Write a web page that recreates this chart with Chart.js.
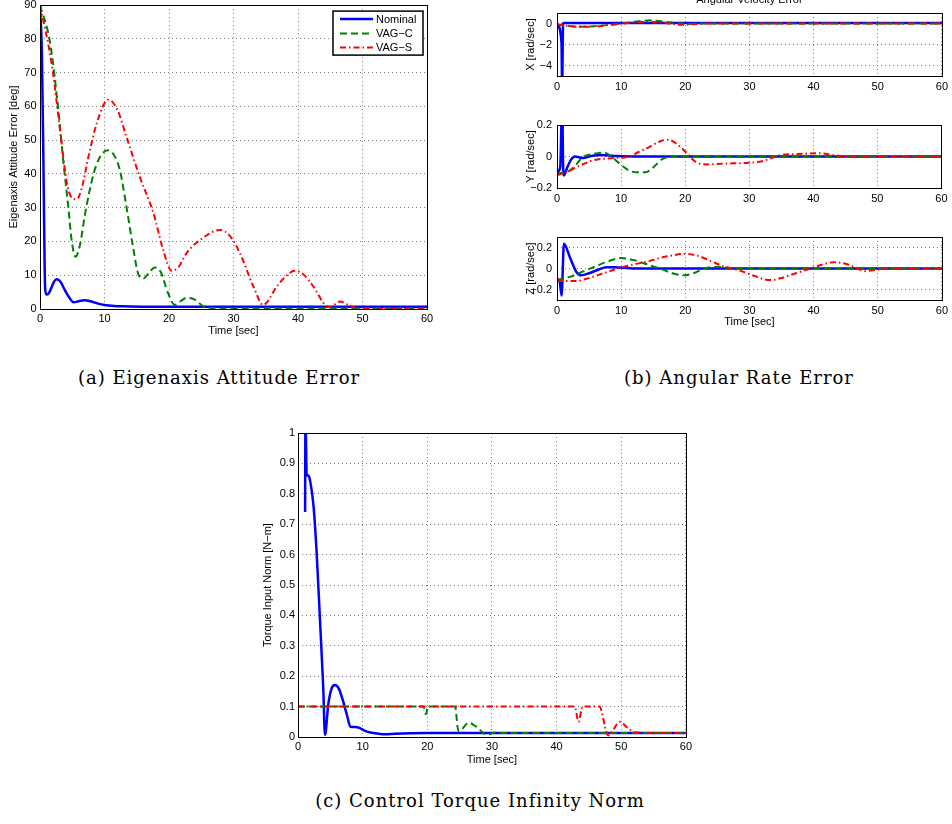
<!DOCTYPE html>
<html>
<head>
<meta charset="utf-8">
<script src="https://cdn.jsdelivr.net/npm/chart.js@4.4.1/dist/chart.umd.min.js"></script>
<style>
  html, body { margin: 0; padding: 0; background: #fff; }
  body { width: 952px; height: 824px; position: relative; overflow: hidden; }
  canvas { position: absolute; }
  .cap { position: absolute; font-family: "DejaVu Serif", serif; font-size: 18px; line-height: 20px;
         letter-spacing: 1px; color: #000; white-space: nowrap; transform: translateX(-50%); }
</style>
</head>
<body>
<canvas id="chartA" width="440" height="350" style="left:0;top:-5px"></canvas>
<canvas id="chartBX" width="452" height="106" style="left:500px;top:-10px"></canvas>
<canvas id="chartBY" width="452" height="102" style="left:500px;top:105px"></canvas>
<canvas id="chartBZ" width="452" height="120" style="left:500px;top:215px"></canvas>
<canvas id="chartC" width="440" height="355" style="left:255px;top:420px"></canvas>
<div class="cap" style="left:219px;top:368px">(a) Eigenaxis Attitude Error</div>
<div class="cap" style="left:739px;top:368px">(b) Angular Rate Error</div>
<div class="cap" style="left:480px;top:791px">(c) Control Torque Infinity Norm</div>
<script>
// ---- données ----
const seriesNames = ['Nominal', 'VAG\u2212C', 'VAG\u2212S'];
const timeTicks = [0, 10, 20, 30, 40, 50, 60];

// (a) erreur d'attitude [deg]
const aTicksY = [0, 10, 20, 30, 40, 50, 60, 70, 80, 90];
const aNomT = [0, 0.3, 0.55, 0.8, 1.0, 1.3, 1.7, 2.2, 2.6, 3.2, 3.8, 4.5, 5.2, 6.0, 6.9, 8.0, 9.0, 10, 11.5, 13, 16, 20, 30, 40, 50, 60];
const aNomV = [90, 75, 40, 6, 4.3, 4.5, 6, 8.2, 8.8, 8.0, 5.8, 3.5, 2.0, 2.3, 2.6, 2.2, 1.6, 1.2, 0.9, 0.8, 0.7, 0.7, 0.7, 0.7, 0.7, 0.7];
const aVcT = [0, 1.55, 2.84, 3.6, 4.4, 4.9, 5.5, 6.2, 7.0, 8.3, 9.3, 10.5, 11.5, 12.4, 13.4, 14.5, 15.2, 16.0, 17.0, 17.8, 18.7, 19.8, 20.9, 21.8, 22.7, 24.0, 25.5, 27, 30, 40, 50, 60];
const aVcV = [90, 79, 59, 44, 30, 20.4, 15.5, 19, 28.3, 40, 45, 47, 45.5, 41, 30.3, 17.5, 10.6, 9, 11, 12.3, 11, 5, 1.2, 2.3, 3.3, 2.8, 0.6, 0.3, 0.2, 0.2, 0.2, 0.2];
const aVsT = [0, 1.8, 3.36, 4.1, 4.9, 5.7, 6.5, 7.5, 8.8, 10.6, 12.0, 13.4, 15.5, 17.6, 19.1, 20.4, 21.5, 22.7, 24.8, 27.9, 29.5, 31, 33.1, 34.6, 36.7, 38.0, 39.5, 40.8, 42.4, 44.2, 45.0, 46.5, 47.8, 49.5, 52, 60];
const aVsV = [90, 72.7, 49, 38, 33, 32.5, 36, 45, 55, 62, 59, 51, 39, 28.3, 17.5, 11.3, 12.5, 16.5, 20.4, 23.4, 21.5, 16.5, 6.6, 1.2, 6.6, 9.5, 11.3, 10.3, 6.6, 1.2, 0.6, 2.2, 1.2, 0.1, 0.1, 0.1];

// (b) erreur de vitesse angulaire [rad/sec]
const bxTicksY = [-4, -2, 0];
const bxNomT = [0, 0.7, 0.8, 0.95, 1.1, 5, 60];
const bxNomV = [0, -1.8, -6, 0, 0.05, 0.05, 0.05];
const bxVcT = [0, 2, 4, 6, 8, 10, 12, 14.5, 17, 19, 20.5, 22, 25, 60];
const bxVcV = [-0.1, -0.25, -0.3, -0.25, -0.15, 0, 0.15, 0.3, 0.15, 0, -0.05, 0, 0, 0];
const bxVsT = [0, 2, 4, 6, 8, 10, 12, 14, 16, 18, 19.5, 21, 23, 60];
const bxVsV = [-0.1, -0.25, -0.32, -0.28, -0.15, -0.02, 0.1, 0.18, 0.1, -0.05, -0.13, -0.08, 0, 0];

const byTicksY = [-0.2, 0, 0.2];
const byNomT = [0, 0.5, 0.75, 0.85, 0.95, 1.1, 1.6, 2.2, 2.8, 4, 5.5, 7, 9, 12, 60];
const byNomV = [-0.1, -0.07, 0.25, 0.25, -0.05, -0.12, -0.07, -0.02, 0.0, -0.01, 0.005, 0.01, 0.003, 0, 0];
const byVcT = [0, 1, 2, 3, 4, 5.5, 7.4, 8.5, 9.8, 11.3, 12.5, 13.8, 15, 16.5, 18.5, 20, 60];
const byVcV = [-0.11, -0.1, -0.09, -0.05, -0.005, 0.015, 0.025, 0.0, -0.047, -0.09, -0.1, -0.1, -0.07, -0.015, 0, 0, 0];
const byVsT = [0, 1, 2.2, 3.6, 5.6, 8.7, 11.3, 12.8, 14.4, 16, 17.3, 18.7, 20.1, 21.7, 23.5, 26, 30, 32, 33.5, 35, 37, 41, 43, 45, 60];
const byVsV = [-0.12, -0.105, -0.085, -0.057, -0.025, -0.01, 0, 0.03, 0.06, 0.095, 0.107, 0.08, 0.028, -0.036, -0.05, -0.045, -0.04, -0.03, -0.01, 0.01, 0.015, 0.02, 0.01, 0, 0];

const bzTicksY = [-0.2, 0, 0.2];
const bzNomT = [0, 0.4, 0.72, 1.08, 2.0, 3.05, 3.8, 5, 6.5, 7.7, 9, 12, 60];
const bzNomV = [-0.1, -0.12, -0.257, 0.235, 0.108, -0.035, -0.065, -0.045, -0.01, 0.013, 0.012, 0, 0];
const bzVcT = [0, 2, 4, 6, 8, 10, 12, 14, 16, 18, 19.8, 21.5, 23, 25, 27, 30, 60];
const bzVcV = [-0.11, -0.08, -0.03, 0.02, 0.07, 0.1, 0.08, 0.04, 0.0, -0.045, -0.065, -0.04, 0.0, 0.015, 0.005, 0, 0];
const bzVsT = [0, 3, 4.5, 6.2, 8, 9.8, 12, 14, 16, 18, 20, 22, 24, 26, 28.5, 30.5, 33.2, 35, 37, 39.5, 41.5, 43.2, 45, 46.5, 48, 50, 52, 60];
const bzVsV = [-0.12, -0.12, -0.1, -0.067, -0.03, 0.006, 0.04, 0.065, 0.1, 0.125, 0.14, 0.12, 0.07, 0.02, -0.02, -0.065, -0.11, -0.09, -0.05, 0.0, 0.04, 0.06, 0.045, 0.01, -0.025, -0.01, 0, 0];

// (c) norme infinie du couple [N-m]
const cTicksY = [0, 0.1, 0.2, 0.3, 0.4, 0.5, 0.6, 0.7, 0.8, 0.9, 1];
const cNomT = [1.1, 1.15, 1.35, 1.6, 1.9, 2.4, 2.9, 3.4, 3.9, 4.17, 4.7, 5.2, 5.7, 6.3, 7.0, 7.6, 8.1, 8.8, 9.5, 10.2, 11.2, 12.4, 13.5, 15, 20, 30, 40, 50, 60];
const cNomV = [0.74, 1.05, 0.86, 0.86, 0.84, 0.76, 0.6, 0.385, 0.165, 0.007, 0.11, 0.16, 0.171, 0.16, 0.116, 0.07, 0.034, 0.033, 0.03, 0.022, 0.015, 0.011, 0.009, 0.011, 0.013, 0.013, 0.013, 0.013, 0.013];
const cVcT = [0, 19.4, 19.8, 20.1, 24.3, 24.8, 25.3, 26.4, 27.5, 29.3, 30.5, 32, 60];
const cVcV = [0.1, 0.1, 0.075, 0.1, 0.1, 0.02, 0.025, 0.047, 0.035, 0.007, 0.015, 0.013, 0.013];
const cVsT = [0, 42.8, 43.4, 44, 46.6, 48, 49.8, 51, 52.2, 60];
const cVsV = [0.1, 0.1, 0.05, 0.1, 0.1, 0.005, 0.05, 0.03, 0.015, 0.013];

// ---- styles ----
const SANS = "'Liberation Sans', Arial, Helvetica, sans-serif";
const tickFont = { family: SANS, size: 11 };
const GRID = '#7a7a7a';
const lineStyles = [
  { borderColor: '#0000ff', borderWidth: 2.5, borderDash: [], order: 3 },
  { borderColor: '#008000', borderWidth: 2, borderDash: [7, 4], order: 2 },
  { borderColor: '#ff0000', borderWidth: 2, borderDash: [6, 3, 1.5, 3], order: 1 }
];

function pts(t, v) {
  return t.map((x, i) => ({ x: x, y: v[i] }));
}

function fmt(v) {
  return String(Math.round(v * 1000) / 1000).replace('-', '\u2212');
}

function datasets(list) {
  return list.map((s, i) => Object.assign({
    label: seriesNames[i],
    data: pts(s[0], s[1]),
    pointRadius: 0,
    fill: false,
    cubicInterpolationMode: 'monotone',
    borderCapStyle: 'butt',
    borderJoinStyle: 'round'
  }, lineStyles[i]));
}

function xAxis(height, pad, title, titlePad) {
  return {
    type: 'linear', min: 0, max: 60,
    afterBuildTicks: s => { s.ticks = timeTicks.map(v => ({ value: v })); },
    ticks: { padding: pad, color: '#000', font: tickFont, maxRotation: 0, autoSkip: false, callback: fmt },
    grid: { color: GRID, drawTicks: false, lineWidth: 1 },
    border: { display: false, dash: [1, 3] },
    title: { display: !!title, text: title || '', color: '#000', font: tickFont, padding: { top: 0, bottom: titlePad || 0 } },
    afterFit: s => { s.height = height; }
  };
}

function yAxis(min, max, tickVals, width, pad, title, titlePad) {
  return {
    type: 'linear', min: min, max: max,
    afterBuildTicks: s => { s.ticks = tickVals.map(v => ({ value: v })); },
    ticks: { padding: pad, color: '#000', font: tickFont, autoSkip: false, callback: fmt },
    grid: { color: GRID, drawTicks: false, lineWidth: 1 },
    border: { display: false, dash: [1, 3] },
    title: { display: true, text: title, color: '#000', font: tickFont, padding: { top: titlePad, bottom: 0 } },
    afterFit: s => { s.width = width; }
  };
}

// cadre noir, titre et légende dessinés par-dessus
const overlay = {
  id: 'overlay',
  afterDraw(chart, args, o) {
    const { ctx, chartArea: a } = chart;
    ctx.save();
    ctx.setLineDash([]);
    ctx.strokeStyle = '#000';
    ctx.lineWidth = 1;
    ctx.strokeRect(Math.round(a.left) + 0.5, Math.round(a.top) + 0.5,
      Math.round(a.right - a.left), Math.round(a.bottom - a.top));
    if (o.heading) {
      ctx.fillStyle = '#000';
      ctx.font = '11px ' + SANS;
      ctx.textAlign = 'center';
      ctx.textBaseline = 'middle';
      ctx.fillText(o.heading, (a.left + a.right) / 2, o.headingY);
    }
    if (o.legend) {
      const bx = a.right - 94, by = a.top + 6, bw = 90, bh = 44;
      ctx.fillStyle = '#fff';
      ctx.fillRect(bx, by, bw, bh);
      ctx.lineWidth = 1.5;
      ctx.strokeRect(bx, by, bw, bh);
      const rows = [8, 22.3, 36.3];
      chart.data.datasets.forEach((d, i) => {
        const y = by + rows[i];
        ctx.strokeStyle = d.borderColor;
        ctx.lineWidth = d.borderWidth;
        ctx.setLineDash(d.borderDash);
        ctx.beginPath();
        ctx.moveTo(bx + 7, y);
        ctx.lineTo(bx + 40, y);
        ctx.stroke();
        ctx.setLineDash([]);
        ctx.fillStyle = '#000';
        ctx.font = '11px ' + SANS;
        ctx.textAlign = 'left';
        ctx.textBaseline = 'middle';
        ctx.fillText(d.label, bx + 43, y + 0.5);
      });
    }
    ctx.restore();
  }
};

function makeChart(id, sets, xs, ys, pad, extra) {
  return new Chart(document.getElementById(id), {
    type: 'line',
    data: { datasets: datasets(sets) },
    options: {
      responsive: false,
      animation: false,
      events: [],
      layout: { padding: pad },
      scales: { x: xs, y: ys },
      plugins: {
        legend: { display: false },
        tooltip: { enabled: false },
        overlay: extra || {}
      }
    },
    plugins: [overlay]
  });
}

makeChart('chartA',
  [[aNomT, aNomV], [aVcT, aVcV], [aVsT, aVsV]],
  xAxis(36, 3, 'Time [sec]', 7.4),
  yAxis(0, 90, aTicksY, 40, 3.5, 'Eigenaxis Attitude Error [deg]', 7.4),
  { top: 10, right: 13, left: 0, bottom: 0 },
  { legend: true });

makeChart('chartBX',
  [[bxNomT, bxNomV], [bxVcT, bxVcV], [bxVsT, bxVsV]],
  xAxis(20, 4),
  yAxis(-5, 1, bxTicksY, 57, 5, 'X [rad/sec]', 24.4),
  { top: 23, right: 8, left: 0, bottom: 0 },
  { heading: 'Angular Velocity Error', headingY: 10 });

makeChart('chartBY',
  [[byNomT, byNomV], [byVcT, byVcV], [byVsT, byVsV]],
  xAxis(19, 4.5),
  yAxis(-0.2, 0.2, byTicksY, 57, 5, 'Y [rad/sec]', 24.4),
  { top: 20, right: 8, left: 0, bottom: 0 });

makeChart('chartBZ',
  [[bzNomT, bzNomV], [bzVcT, bzVcV], [bzVsT, bzVsV]],
  xAxis(35, 4, 'Time [sec]', 6.4),
  yAxis(-0.3, 0.3, bzTicksY, 57, 5, 'Z [rad/sec]', 24.4),
  { top: 22, right: 8, left: 0, bottom: 0 });

makeChart('chartC',
  [[cNomT, cNomV], [cVcT, cVcV], [cVsT, cVsV]],
  xAxis(38, 3, 'Time [sec]', 8.4),
  yAxis(0, 1, cTicksY, 43, 3, 'Torque Input Norm [N\u2212m]', 6.4),
  { top: 13, right: 9, left: 0, bottom: 0 });
</script>
</body>
</html>
